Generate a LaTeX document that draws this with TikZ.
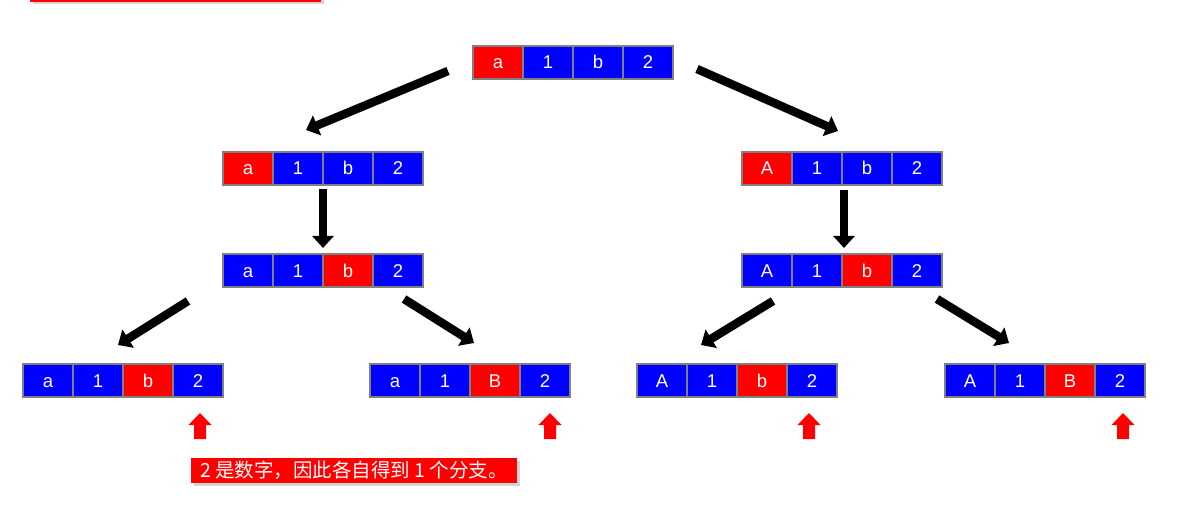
\documentclass[tikz,border=0pt]{standalone}
\usepackage{fontspec}
\newfontfamily\cellfont{Liberation Sans}
\newfontfamily\cjkfont{Noto Sans CJK SC}
\usetikzlibrary{arrows.meta,calc,shadows}
\definecolor{cellblue}{HTML}{0000FF}
\definecolor{cellred}{HTML}{FF0000}
\definecolor{rim}{HTML}{808080}
\tikzset{
  cell/.style={draw=rim,line width=2pt,minimum width=50pt,minimum height=33pt,inner sep=0pt,
    text=white,text height=13pt,text depth=0pt,font=\cellfont\fontsize{18.5}{20}\selectfont,anchor=north west},
  push/.style={line width=8.5pt,-{Triangle[width=21pt,length=12pt]}},
  soft/.style={drop shadow={shadow xshift=2.5pt,shadow yshift=-2.5pt,opacity=.35}},
  note/.style={fill=cellred,text=white,font=\cjkfont\fontsize{19.5}{22}\selectfont,
    minimum width=326pt,minimum height=25pt,inner sep=0pt},
  hint/.pic={\fill[cellred] (-11.5,0) -- (0,-12) -- (11.5,0) -- (6,0) -- (6,14) -- (-6,14) -- (-6,0) -- cycle;}
}
% one string as a row of four cells: name, x, y, red cell, labels
\newcommand\strrow[5]{%
  \foreach \t [count=\i] in {#5}{%
    \ifnum\i=#4 \def\cellfill{cellred}\else\def\cellfill{cellblue}\fi
    \node[cell,fill=\cellfill] (#1-\i) at ({#2+(\i-1)*50},{#3+1}) {\t};
  }}

\begin{document}
\begin{tikzpicture}[x=1pt,y=-1pt]
  \useasboundingbox (0,0) rectangle (1188,529);
  \path[fill=cellred,soft] (30,-10) rectangle (321,2);

  \strrow{root}{472}{44}{1}{a,1,b,2}
  \strrow{left}{222}{150}{1}{a,1,b,2}
  \strrow{right}{741}{150}{1}{A,1,b,2}
  \strrow{leftb}{222}{252}{3}{a,1,b,2}
  \strrow{rightb}{741}{252}{3}{A,1,b,2}
  \strrow{leaf1}{22}{362}{3}{a,1,b,2}
  \strrow{leaf2}{369}{362}{3}{a,1,B,2}
  \strrow{leaf3}{636}{362}{3}{A,1,b,2}
  \strrow{leaf4}{944}{362}{3}{A,1,B,2}

  % branches
  \draw[push] ($(root-1.west)+(-24,8.5)$) -- ($(left-2.north)+(8,-21)$);
  \draw[push] ($(root-4.east)+(23,6.5)$) -- ($(right-2.north east)+(-5,-20)$);
  \draw[push] ($(left-3.south west)+(1,3)$) -- ($(leftb-3.north west)+(1,-5)$);
  \draw[push] ($(right-3.south west)+(3,4)$) -- ($(rightb-3.north west)+(3,-5)$);
  \draw[push] ($(leftb-1.south)+(-60,13)$) -- ($(leaf1-2.north)+(20,-18)$);
  \draw[push] ($(leftb-4.south)+(6,11)$) -- ($(leaf2-3.north)+(-21,-20)$);
  \draw[push] ($(rightb-1.south)+(6,13)$) -- ($(leaf3-2.north)+(-11,-18)$);
  \draw[push] ($(rightb-4.south)+(20,11)$) -- ($(leaf4-2.north)+(-11,-20)$);

  % red markers under the digit
  \pic at ($(leaf1-4.south)+(2,27)$) {hint};
  \pic at ($(leaf2-4.south)+(5,27)$) {hint};
  \pic at ($(leaf3-4.south)+(-3,27)$) {hint};
  \pic at ($(leaf4-4.south)+(3,27)$) {hint};

  \node[note,soft] (caption) at (354,470.5) {2 是数字，因此各自得到 1 个分支。};
\end{tikzpicture}
\end{document}
